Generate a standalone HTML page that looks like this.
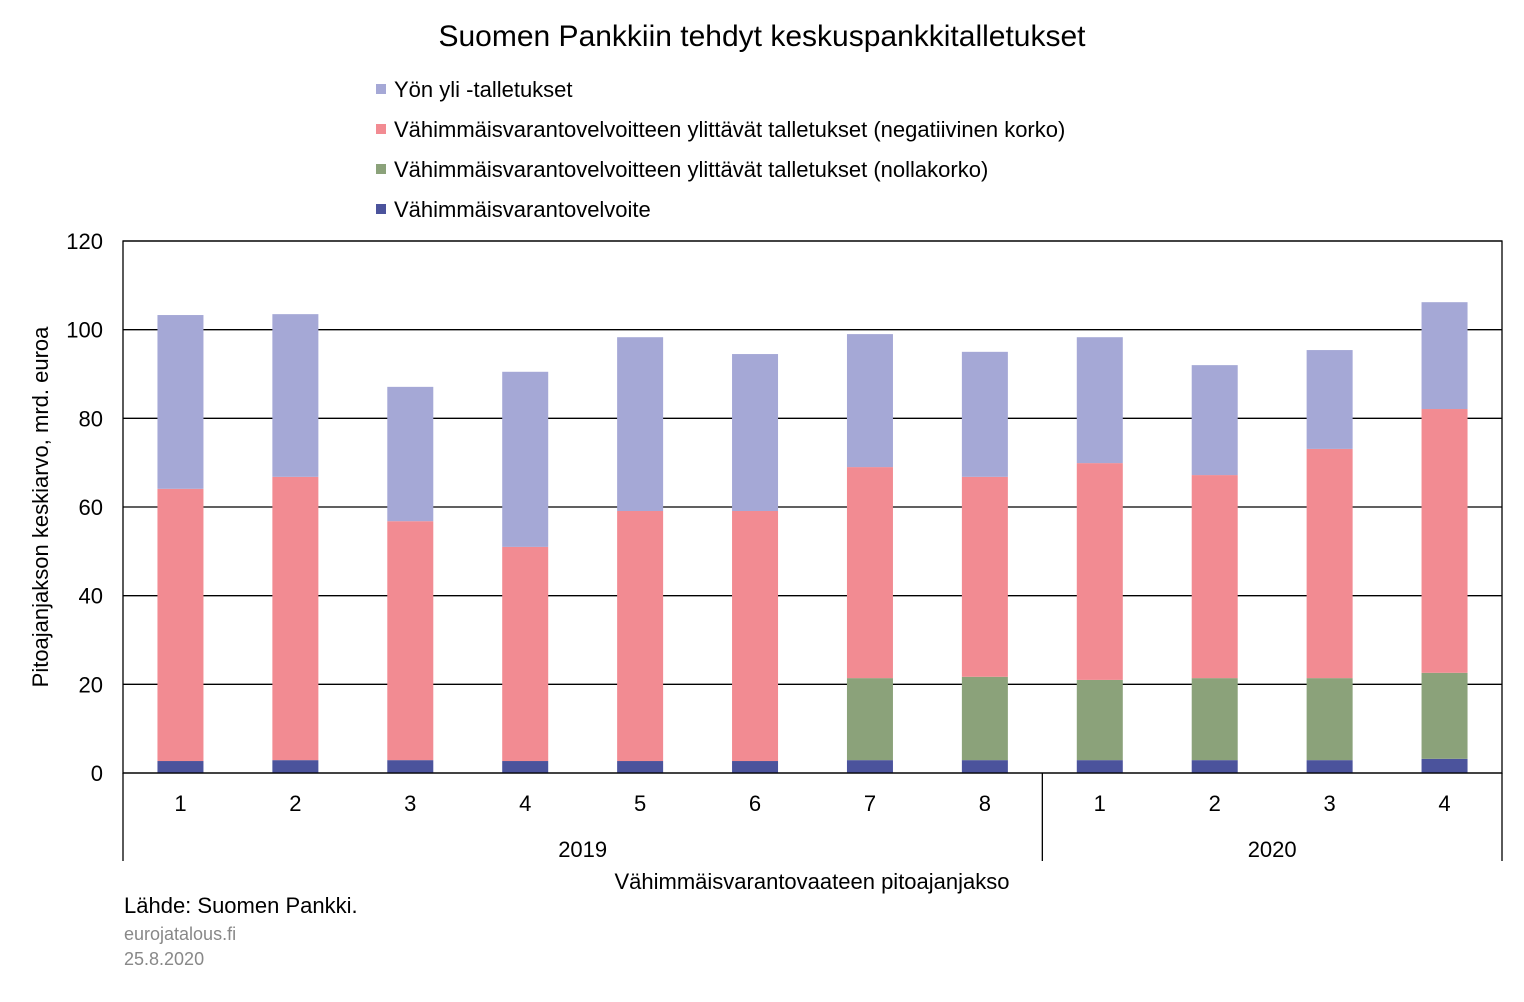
<!DOCTYPE html>
<html><head><meta charset="utf-8"><style>
body{margin:0;background:#fff;font-family:"Liberation Sans",Arial,sans-serif}
svg text{font-family:"Liberation Sans",Arial,sans-serif;fill:#000}
</style></head><body>
<svg id="chart" width="1524" height="997" viewBox="0 0 1524 997" xmlns="http://www.w3.org/2000/svg">
<text x="762" y="46" font-size="30" text-anchor="middle">Suomen Pankkiin tehdyt keskuspankkitalletukset</text>
<g id="legend"></g>
<g id="grid"></g>
<g id="bars"></g>
<g id="axes"></g>
<text transform="translate(48,507) rotate(-90)" font-size="22" text-anchor="middle">Pitoajanjakson keskiarvo, mrd. euroa</text>
<text x="812" y="889" font-size="22" text-anchor="middle">Vähimmäisvarantovaateen pitoajanjakso</text>
<text x="124" y="913" font-size="22">Lähde: Suomen Pankki.</text>
<text x="124" y="940" font-size="18" style="fill:#888">eurojatalous.fi</text>
<text x="124" y="965" font-size="18" style="fill:#888">25.8.2020</text>
</svg>
<script>
const categories=["1","2","3","4","5","6","7","8","1","2","3","4"];
const years=["2019","2020"];
const yearCounts=[8,4];
const reserveReq=[2.7,2.9,2.9,2.7,2.7,2.7,2.9,2.9,2.9,2.9,2.9,3.2];
const zeroRate=[0,0,0,0,0,0,18.5,18.8,18.1,18.5,18.5,19.4];
const negRate=[61.4,63.9,53.9,48.3,56.4,56.4,47.6,45.1,48.9,45.8,51.7,59.5];
const overnight=[39.2,36.7,30.3,39.5,39.2,35.4,30.0,28.2,28.4,24.8,22.3,24.1];
const yTicks=[0,20,40,60,80,100,120];
const seriesNames=["Yön yli -talletukset","Vähimmäisvarantovelvoitteen ylittävät talletukset (negatiivinen korko)","Vähimmäisvarantovelvoitteen ylittävät talletukset (nollakorko)","Vähimmäisvarantovelvoite"];
const colors=["#a5a8d6","#f28b92","#8ba27a","#4b539c"];
const NS="http://www.w3.org/2000/svg";
const L=123,R=1502,T=241,B=773,yMax=120;
const y=v=>B-(v/yMax)*(B-T);
const step=(R-L)/categories.length;
const x=i=>L+step*(i+0.5);
const bw=46;
function mk(tag,attrs,parent){const e=document.createElementNS(NS,tag);for(const k in attrs)e.setAttribute(k,attrs[k]);parent.appendChild(e);return e;}
const grid=document.getElementById('grid'),bars=document.getElementById('bars'),axes=document.getElementById('axes'),legend=document.getElementById('legend');
yTicks.forEach(t=>{
 const ln=mk('line',{x1:L,x2:R,y1:y(t),y2:y(t),stroke:'#000','stroke-width':1.3},grid);
 
 
 const tx=mk('text',{x:L-20,y:y(t)+8,'font-size':22,'text-anchor':'end'},axes);
 tx.textContent=t;
 
 
});
const series=[reserveReq,zeroRate,negRate,overnight];
const sc=[colors[3],colors[2],colors[1],colors[0]];
const sn=['reserve','zero-rate','negative-rate','overnight'];
categories.forEach((c,i)=>{
 let acc=0;
 series.forEach((s,k)=>{
  const v=s[i]; if(v<=0)return;
  const r=mk('rect',{x:x(i)-bw/2,y:y(acc+v),width:bw,height:y(acc)-y(acc+v),fill:sc[k]},bars);
  
  
  acc+=v;
 });
 const tx=mk('text',{x:x(i),y:811,'font-size':22,'text-anchor':'middle'},axes);
 tx.textContent=c;
 
 
});
mk('rect',{x:L,y:T,width:R-L,height:B-T,fill:'none',stroke:'#000','stroke-width':1.3},axes);
let start=0;
const sepXs=[L];
years.forEach((yr,j)=>{
 const end=start+yearCounts[j];
 const xe=L+step*end; sepXs.push(xe);
 const tx=mk('text',{x:(L+step*start+xe)/2,y:857,'font-size':22,'text-anchor':'middle'},axes);
 tx.textContent=yr;
 
 
 start=end;
});
sepXs.forEach(sx=>{const l=mk('line',{x1:sx,x2:sx,y1:B,y2:861,stroke:'#000','stroke-width':1.3},axes);
 
 });
seriesNames.forEach((n,k)=>{
 const yy=90+k*40;
 const sq=mk('rect',{x:376,y:yy-6,width:10,height:10,fill:colors[k]},legend);
 
 
 const tx=mk('text',{x:394,y:yy+7,'font-size':22},legend);
 tx.textContent=n;
 
 
});
</script>
</body></html>
